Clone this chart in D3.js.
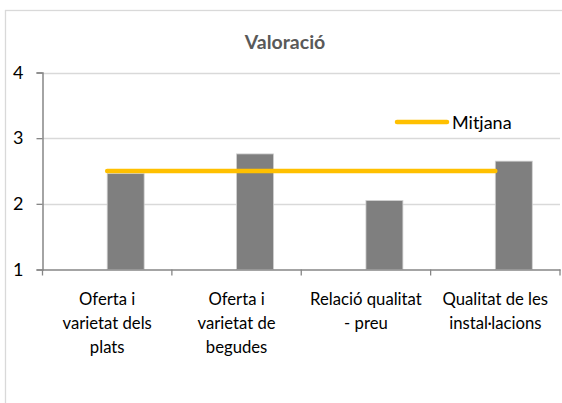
<!DOCTYPE html>
<html>
<head>
<meta charset="utf-8">
<script src="https://cdn.jsdelivr.net/npm/d3@7"></script>
<style>
  html, body { margin: 0; padding: 0; background: #fff; }
  svg { display: block; }
  text { font-family: Lato, "Open Sans", sans-serif; }
</style>
</head>
<body>
<svg id="chart" width="562" height="403"></svg>
<script>
// Categories (each label split in display lines)
const categories = [
  "Oferta i varietat dels plats",
  "Oferta i varietat de begudes",
  "Relació qualitat - preu",
  "Qualitat de les instal·lacions"
];
const categoryLines = [
  ["Oferta i", "varietat dels", "plats"],
  ["Oferta i", "varietat de", "begudes"],
  ["Relació qualitat", "- preu"],
  ["Qualitat de les", "instal·lacions"]
];
// Average rating per category
const valoracio = [2.46, 2.76, 2.05, 2.65];
// Overall average, drawn as a line across categories
const mitjana = [2.5, 2.5, 2.5, 2.5];
const yTicks = [1, 2, 3, 4];

const svg = d3.select("#chart");
const plotLeft = 42.5, plotRight = 560, plotTop = 72.5, plotBottom = 269.5;

// Chart area frame (runs past the right and bottom edges)
svg.append("rect")
  .attr("x", 5.5).attr("y", 10.5)
  .attr("width", 620).attr("height", 460)
  .attr("fill", "#fff").attr("stroke", "#d9d9d9").attr("stroke-width", 1.3);

const x = d3.scaleBand().domain(categories).range([plotLeft, plotRight]).paddingInner(0).paddingOuter(0);
// Two slots per category: the first is empty, the second holds the bar
const xSlot = d3.scaleBand().domain(["buit", "valor"]).range([0, x.bandwidth()])
  .paddingInner(0).paddingOuter(0.75);
const y = d3.scaleLinear().domain([1, 4]).range([plotBottom, plotTop]);

// Gridlines
svg.append("g").selectAll("line").data(yTicks.filter(t => t > 1)).join("line")
  .attr("x1", plotLeft).attr("x2", plotRight)
  .attr("y1", d => Math.round(y(d)) + 0.5).attr("y2", d => Math.round(y(d)) + 0.5)
  .attr("stroke", "#d9d9d9").attr("stroke-width", 1.3);

// Bars
svg.append("g").selectAll("rect").data(categories).join("rect")
  .attr("x", (d) => x(d) + xSlot("valor"))
  .attr("y", (d, i) => y(valoracio[i]))
  .attr("width", xSlot.bandwidth())
  .attr("height", (d, i) => plotBottom - y(valoracio[i]))
  .attr("fill", "#7f7f7f")
  .attr("stroke", "#d0d0d0").attr("stroke-width", 0.8);

// Y axis
const yAxis = d3.axisLeft(y).tickValues(yTicks).tickFormat(d3.format("d")).tickSize(6).tickPadding(13);
const gy = svg.append("g").attr("transform", `translate(${plotLeft},0)`).call(yAxis);
gy.select(".domain").attr("stroke", "#868686").attr("stroke-width", 1.5);
gy.selectAll(".tick line").attr("stroke", "#868686").attr("stroke-width", 1.3);
gy.selectAll(".tick text").attr("font-size", 18).attr("fill", "#000")
  .attr("font-family", "Lato, 'Open Sans', sans-serif");

// X axis
const xAxis = d3.axisBottom(x).tickSize(0).tickFormat("");
const gx = svg.append("g").attr("transform", `translate(0,${plotBottom})`).call(xAxis);
gx.select(".domain").attr("stroke", "#868686").attr("stroke-width", 1.5);
// Category boundary ticks
svg.append("g").selectAll("line").data(categories.concat(["__end"])).join("line")
  .attr("x1", (d, i) => i < categories.length ? x(d) : plotRight)
  .attr("x2", (d, i) => i < categories.length ? x(d) : plotRight)
  .attr("y1", plotBottom).attr("y2", plotBottom + 6)
  .attr("stroke", "#868686").attr("stroke-width", 1.3);

// Category labels
const labels = svg.append("g").selectAll("text").data(categories).join("text")
  .attr("text-anchor", "middle").attr("font-size", 16.7).attr("fill", "#000")
  .attr("x", d => x(d) + x.bandwidth() / 2)
  .attr("y", 305);
labels.each(function(d, i) {
  d3.select(this).selectAll("tspan").data(categoryLines[i]).join("tspan")
    .attr("x", x(d) + x.bandwidth() / 2)
    .attr("dy", (t, j) => j === 0 ? 0 : 24)
    .text(t => t);
});

// Average line
const line = d3.line()
  .x((d, i) => x(categories[i]) + x.bandwidth() / 2)
  .y(d => y(d));
svg.append("path").datum(mitjana)
  .attr("d", line)
  .attr("fill", "none").attr("stroke", "#ffc000")
  .attr("stroke-width", 4.5).attr("stroke-linecap", "round");

// Title
svg.append("text").attr("x", 285).attr("y", 49)
  .attr("text-anchor", "middle").attr("font-size", 19.5).attr("font-weight", "bold")
  .attr("fill", "#595959").text("Valoració");

// Legend
svg.append("line").attr("x1", 397).attr("x2", 447).attr("y1", 122).attr("y2", 122)
  .attr("stroke", "#ffc000").attr("stroke-width", 4.5).attr("stroke-linecap", "round");
svg.append("text").attr("x", 452).attr("y", 128.5)
  .attr("font-size", 18).attr("fill", "#000").text("Mitjana");
</script>
</body>
</html>
